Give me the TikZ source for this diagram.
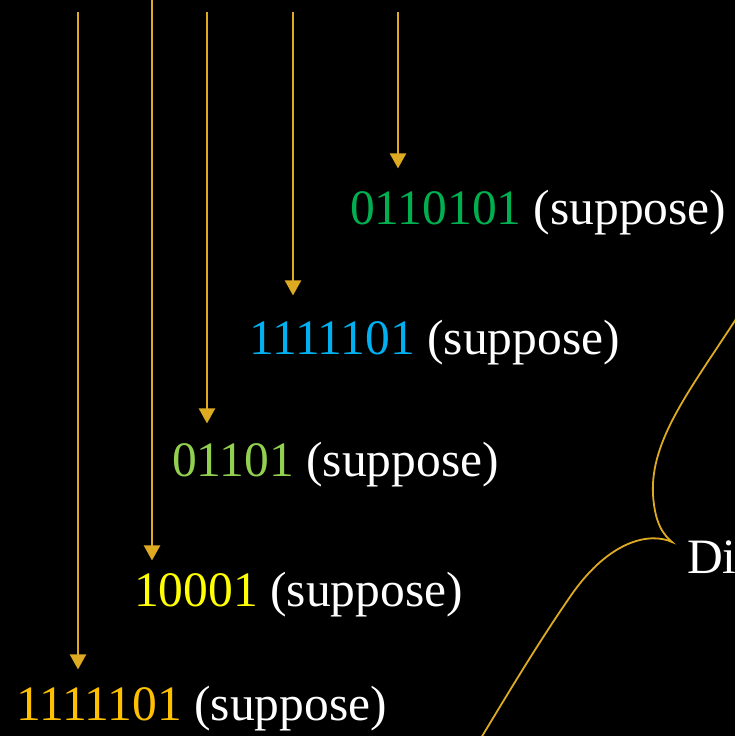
\documentclass[tikz,border=0pt]{standalone}
\usepackage{fontspec}
\setmainfont{Liberation Serif}
\usetikzlibrary{arrows.meta}
\definecolor{gold}{RGB}{221,170,34}
\definecolor{cgreen}{RGB}{0,176,80}
\definecolor{cblue}{RGB}{0,176,240}
\definecolor{clime}{RGB}{146,208,80}
\definecolor{cyellow}{RGB}{255,255,0}
\definecolor{corange}{RGB}{255,192,0}
\begin{document}
\begin{tikzpicture}[x=1pt,y=-1pt,
  label/.style={anchor=base west,inner sep=0pt,text=white,
    font=\fontsize{49.5}{59}\selectfont},
  pointer/.style={draw=gold,line width=2.2pt,
    -{Triangle[width=16pt,length=15pt]}},
  brace/.style={draw=gold,line width=1.8pt}]
\fill[black] (0,0) rectangle (735,736);
\useasboundingbox (0,0) rectangle (735,736);

% the five values
\node[label] (n1) at (350,224) {\textcolor{cgreen}{0110101} (suppose)};
\node[label] (n2) at (249,354) {\textcolor{cblue}{1111101} (suppose)};
\node[label] (n3) at (172,476) {\textcolor{clime}{01101} (suppose)};
\node[label] (n4) at (134,606) {\textcolor{cyellow}{10001} (suppose)};
\node[label] (n5) at (16,720) {\textcolor{corange}{1111101} (suppose)};
\node[label] (d) at (687,573) {Di};

% starting points of the arrows
\coordinate (t1) at (398,12);
\coordinate (t2) at (293,12);
\coordinate (t3) at (207,12);
\coordinate (t4) at (152,0);
\coordinate (t5) at (78,12);

\draw[pointer] (t1) -- ([yshift=21pt]n1.north -| t1);
\draw[pointer] (t2) -- ([yshift=24pt]n2.north -| t2);
\draw[pointer] (t3) -- ([yshift=18pt]n3.north -| t3);
\draw[pointer] (t4) -- ([yshift=11pt]n4.north -| t4);
\draw[pointer] (t5) -- ([yshift=16pt]n5.north -| t5);

% large brace pointing at the label on the right
\coordinate (tip) at (672,542);
\draw[brace] (738,316) .. controls (690,390) and (650,440) .. (653,495)
  .. controls (655,525) and (664,535) .. (tip)
  .. controls (650,532) and (610,540) .. (572,594)
  .. controls (540,640) and (510,690) .. (481,738);
\end{tikzpicture}
\end{document}
